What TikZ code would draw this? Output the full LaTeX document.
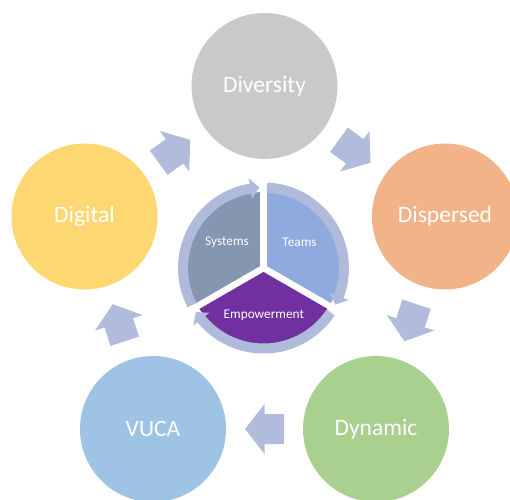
\documentclass[tikz,border=0pt]{standalone}
\usepackage{fontspec}
\setmainfont{Carlito}
\usetikzlibrary{arrows.meta,bending,calc}
\definecolor{ringcol}{HTML}{B0BBDC}
\definecolor{arrcol}{HTML}{B1BCDC}
\definecolor{divcol}{HTML}{C9C9C9}
\definecolor{dispcol}{HTML}{F2B388}
\definecolor{digcol}{HTML}{FDD872}
\definecolor{vucacol}{HTML}{9FC3E5}
\definecolor{dyncol}{HTML}{A9D08E}
\definecolor{syscol}{HTML}{8496B0}
\definecolor{teamcol}{HTML}{8FAADC}
\definecolor{empcol}{HTML}{7030A0}
\tikzset{
 bigcirc/.style={circle, minimum size=146pt, inner sep=0pt, text=white, font=\fontsize{23.5}{28}\selectfont},
 smalllabel/.style={text=white, inner sep=0pt, font=\fontsize{13.3}{16}\selectfont},
 ringarrow/.style={draw=ringcol, line width=10pt, -{Triangle[width=20pt,length=9pt,bend]}},
 gapline/.style={draw=white, line width=6.5pt},
 blockarrow/.pic={\fill[arrcol] (-19.5,-15) -- (0,-15) -- (0,-25) -- (19.5,0) -- (0,25) -- (0,15) -- (-19.5,15) -- cycle;}
}
\begin{document}
\begin{tikzpicture}[x=1pt,y=1pt]
\useasboundingbox (0,0) rectangle (510,-499);
\clip (0,0) rectangle (510,-499);
% outer circles
\node[bigcirc, fill=divcol]  (div)  at (264.5,-86)   {Diversity};
\node[bigcirc, fill=dispcol] (disp) at (445,-216.5)  {Dispersed};
\node[bigcirc, fill=dyncol]  (dyn)  at (376,-429)    {Dynamic};
\node[bigcirc, fill=vucacol] (vuca) at (153,-429)    {VUCA};
\node[bigcirc, fill=digcol]  (dig)  at (84.5,-216.5) {Digital};
% block arrows
\pic[rotate=-36]  at ($(div)!0.5!(disp)$) {blockarrow};
\pic[rotate=-108] at ($(disp)!0.5!(dyn)$) {blockarrow};
\pic[rotate=180]  at ($(dyn)!0.5!(vuca)$) {blockarrow};
\pic[rotate=108]  at ($(vuca)!0.5!(dig)$) {blockarrow};
\pic[rotate=36]   at ($(dig)!0.5!(div)$)  {blockarrow};
% center pie
\coordinate (C) at (263.5,-268);
\fill[syscol]  (C) -- ([shift={(C)}]90:76pt)  arc[start angle=90,  end angle=210, radius=76pt] -- cycle;
\fill[teamcol] (C) -- ([shift={(C)}]-30:76pt) arc[start angle=-30, end angle=90,  radius=76pt] -- cycle;
\fill[empcol]  (C) -- ([shift={(C)}]210:76pt) arc[start angle=210, end angle=330, radius=76pt] -- cycle;
\draw[gapline] (C) -- ([shift={(C)}]90:86pt);
\draw[gapline] (C) -- ([shift={(C)}]210:86pt);
\draw[gapline] (C) -- ([shift={(C)}]330:86pt);
% ring arrows
\draw[ringarrow] ([shift={(C)}]207.5:80.5pt) arc[start angle=207.5, end angle=93,   radius=80.5pt];
\draw[ringarrow] ([shift={(C)}]87.5:80.5pt)  arc[start angle=87.5,  end angle=-27,  radius=80.5pt];
\draw[ringarrow] ([shift={(C)}]-33.5:80.5pt) arc[start angle=-33.5, end angle=-147, radius=80.5pt];
% labels
\node[smalllabel] (sys)  at (227,-242.7)   {Systems};
\node[smalllabel] (team) at (299.5,-242.7) {Teams};
\node[smalllabel] (emp)  at (263.8,-315)   {Empowerment};
\end{tikzpicture}
\end{document}
